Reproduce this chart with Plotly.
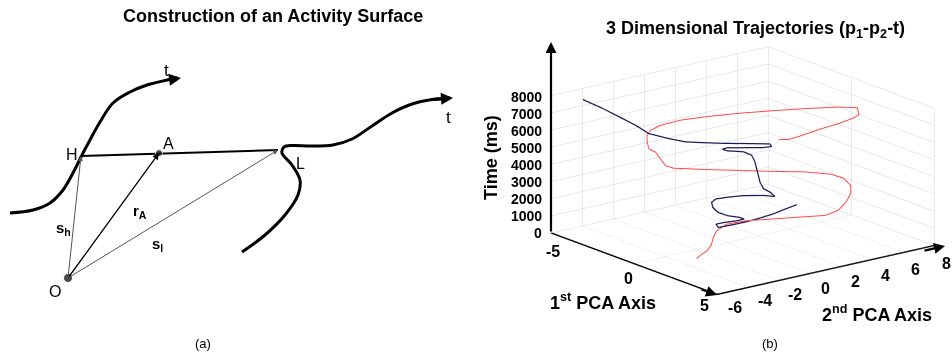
import plotly.graph_objects as go

# ---------------- Panel (a): schematic diagram (diagram coordinates) ----------------
left_curve_x = [10, 33, 50, 63, 73, 82, 90, 100, 113, 130, 147, 167, 178]
left_curve_y = [213, 210, 203, 190, 173, 155, 140, 122, 103, 92, 85, 80, 78]
right_curve_x = [242, 265, 285, 298, 300, 292, 282, 284, 293, 310, 333, 352, 372, 392, 412, 432, 450]
right_curve_y = [252, 235, 215, 195, 180, 165, 153, 147, 145.5, 146, 145, 139, 126, 113, 104, 99.5, 98]
point_O = (68, 278)
point_H = (81, 156)
point_A = (159, 153)
point_L = (278, 150)

# ---------------- Panel (b): 3-D trajectories ----------------
blue_p1 = [-1.40, -1.05, -0.65, -0.34, -0.12, 0.03, 0.16, -0.05, 0.14, 0.44, 0.59, 0.48, 0.23, -0.16,
           -0.61, -0.97, -1.04, -0.78, -0.40, 0.21, 0.74, 0.36, 0.22, -0.02, -0.21, -0.41, -0.61, -0.83,
           -1.02, -1.31, -1.41, -1.27, -0.73, -0.12, 0.14, 0.01, -0.30, -0.74, -1.26, -1.45, -1.81, -2.24,
           -2.68, -3.21, -3.74, -4.40]
blue_p2 = [5.99, 4.88, 3.64, 2.26, 1.20, 0.18, -0.76, -0.66, -0.33, 0.19, 0.46, 0.26, -0.22, -0.43,
           -0.28, 0.03, 0.37, 0.84, 1.49, 2.11, 2.28, 2.37, 2.10, 2.13, 2.23, 2.33, 2.44, 2.46,
           2.13, 1.40, 1.19, 1.35, 1.84, 2.45, 2.71, 2.74, 1.80, 0.59, -0.55, -1.18, -1.86, -2.67,
           -3.04, -3.53, -4.03, -4.60]
blue_t = [500, 600, 700, 800, 900, 1000, 1100, 1200, 1300, 1400, 1500, 1600, 1700, 1800,
          1900, 2000, 2100, 2200, 2300, 2400, 2500, 2600, 2800, 3100, 3400, 3700, 4000, 4300,
          4500, 4600, 4700, 4800, 4900, 5000, 5100, 5200, 5300, 5400, 5500, 5600, 5800, 6100,
          6500, 6900, 7300, 7700]

red_p1 = [0.92, 0.77, 0.65, 0.41, 0.03, -0.31, -0.50, -0.14, 0.54, 1.22, 1.90, 2.03, 1.70, 1.31,
          0.81, 0.32, -0.15, -0.72, -1.26, -1.83, -2.41, -3.02, -3.21, -3.57, -3.93, -4.07, -4.36,
          -4.60, -4.69, -4.63, -4.35, -3.77, -3.02, -2.18, -1.30, -0.27, 0.59, 1.57, 1.97, 2.48,
          2.88, 3.38, 3.64, 3.60]
red_p2 = [-2.96, -2.49, -1.95, -1.45, -0.93, -0.36, 0.50, 1.38, 2.35, 3.33, 4.28, 4.99, 5.85, 6.57,
          7.09, 7.18, 6.84, 5.76, 4.22, 2.73, 1.24, -0.21, -0.54, -0.48, -0.41, -0.69, -0.50,
          -0.25, 0.06, 0.63, 1.60, 2.66, 3.97, 5.18, 6.36, 7.39, 7.75, 6.82, 6.09, 4.52,
          2.84, 1.07, 0.06, -0.52]
red_t = [0, 100, 200, 350, 500, 650, 800, 950, 1100, 1250, 1400, 1600, 1800, 2000,
         2200, 2400, 2550, 2700, 2850, 3000, 3150, 3300, 3450, 3700, 3950, 4150, 4400,
         4650, 4850, 5050, 5250, 5450, 5650, 5850, 6050, 6300, 6500, 6650, 6750, 6900,
         7050, 7200, 7300, 7400]

p1_ticks = [-5, 0, 5]
p1_labels = ["-5", "0", "5"]
p2_ticks = [-6, -4, -2, 0, 2, 4, 6, 8]
p2_labels = ["-6", "-4", "-2", "0", "2", "4", "6", "8"]
t_ticks = [0, 1000, 2000, 3000, 4000, 5000, 6000, 7000, 8000]
t_labels = ["0", "1000", "2000", "3000", "4000", "5000", "6000", "7000", "8000"]

FONT = "Liberation Sans, Arial, sans-serif"

fig = go.Figure()

# ---- panel (a) traces ----
fig.add_trace(go.Scatter(x=left_curve_x, y=left_curve_y, mode="lines",
                         line=dict(color="black", width=3, shape="spline"), hoverinfo="skip"))
fig.add_trace(go.Scatter(x=right_curve_x, y=right_curve_y, mode="lines",
                         line=dict(color="black", width=3, shape="spline"), hoverinfo="skip"))
fig.add_trace(go.Scatter(x=[point_H[0], point_L[0]], y=[point_H[1], point_L[1]], mode="lines",
                         line=dict(color="black", width=2), hoverinfo="skip"))
fig.add_trace(go.Scatter(x=[point_A[0], point_O[0]], y=[point_A[1], point_O[1]], mode="markers",
                         marker=dict(color="black", size=[7, 9]), hoverinfo="skip"))

# ---- panel (b) traces ----
fig.add_trace(go.Scatter3d(x=red_p1, y=red_p2, z=red_t, mode="lines",
                           line=dict(color="#ff4a4a", width=2), scene="scene", hoverinfo="skip"))
fig.add_trace(go.Scatter3d(x=blue_p1, y=blue_p2, z=blue_t, mode="lines",
                           line=dict(color="#1c1c5c", width=2.5), scene="scene", hoverinfo="skip"))

axis_common = dict(showbackground=False, showspikes=False, zeroline=False,
                   gridcolor="#d4d4d4", gridwidth=1, linecolor="black",
                   linewidth=3, ticks="", title=dict(text=""), showticklabels=False)

fig.update_layout(
    width=952, height=356, margin=dict(l=0, r=0, t=0, b=0),
    paper_bgcolor="white", plot_bgcolor="white", showlegend=False,
    xaxis=dict(domain=[0, 0.5], range=[0, 476], visible=False, fixedrange=True),
    yaxis=dict(domain=[0, 1], range=[356, 0], visible=False, fixedrange=True),
    scene=dict(
        domain=dict(x=[0.47, 1.0], y=[0.08, 0.95]),
        xaxis=dict(range=[-5, 5], tickvals=p1_ticks, showline=True, **axis_common),
        yaxis=dict(range=[-6, 8], tickvals=p2_ticks, showline=True, **axis_common),
        zaxis=dict(range=[0, 8000], tickvals=t_ticks, showline=False, **axis_common),
        aspectmode="manual", aspectratio=dict(x=1.741, y=1.776, z=0.926),
        camera=dict(eye=dict(x=0.662, y=-0.870, z=0.302), up=dict(x=0, y=0, z=1),
                    center=dict(x=-0.165, y=-0.225, z=-0.014), projection=dict(type="orthographic")),
    ),
)

ann = []
# arrows from O
for tgt, col, w in [(point_H, "#555555", 1), (point_A, "black", 1.3), (point_L, "#555555", 1)]:
    ann.append(dict(x=tgt[0], y=tgt[1], ax=point_O[0], ay=point_O[1], xref="x", yref="y",
                    axref="x", ayref="y", showarrow=True, arrowhead=2, arrowsize=1,
                    arrowwidth=w, arrowcolor=col, text=""))
# curve arrow heads
ann.append(dict(x=left_curve_x[-1] + 3, y=left_curve_y[-1], ax=left_curve_x[-2], ay=left_curve_y[-2],
                xref="x", yref="y", axref="x", ayref="y", showarrow=True, arrowhead=2,
                arrowsize=0.8, arrowwidth=3, arrowcolor="black", text=""))
ann.append(dict(x=right_curve_x[-1] + 3, y=right_curve_y[-1], ax=right_curve_x[-2], ay=right_curve_y[-2],
                xref="x", yref="y", axref="x", ayref="y", showarrow=True, arrowhead=2,
                arrowsize=0.8, arrowwidth=3, arrowcolor="black", text=""))

def lab(text, x, y, size=15, bold=False, xref="x", yref="y", **kw):
    t = f"<b>{text}</b>" if bold else text
    d = dict(text=t, x=x, y=y, xref=xref, yref=yref, showarrow=False,
             font=dict(family=FONT, size=size, color="black"), xanchor="center", yanchor="middle")
    d.update(kw)
    ann.append(d)

lab("Construction of an Activity Surface", 273, 16, size=18, bold=True)
lab("t", 166, 70, size=17)
lab("t", 448, 117, size=17)
lab("H", 72, 154, size=16)
lab("A", 168, 143, size=16)
lab("L", 300, 163, size=16)
lab("O", 55, 291, size=16)
lab("s<sub>h</sub>", 63, 228, size=15, bold=True)
lab("r<sub>A</sub>", 140, 211, size=15, bold=True)
lab("s<sub>l</sub>", 157, 244, size=15, bold=True)
lab("(a)", 203, 343, size=13)

# panel (b) labels in paper coords
def px(x):
    return x / 952

def py(y):
    return 1 - y / 356

lab("3 Dimensional Trajectories (p<sub>1</sub>-p<sub>2</sub>-t)", px(755), py(29), size=18, bold=True,
    xref="paper", yref="paper")
lab("Time (ms)", px(491), py(158), size=18, bold=True, xref="paper", yref="paper", textangle=-90)
lab("1<sup>st</sup> PCA Axis", px(603), py(301), size=18, bold=True, xref="paper", yref="paper")
lab("2<sup>nd</sup> PCA Axis", px(877), py(313), size=18, bold=True, xref="paper", yref="paper")
lab("(b)", px(770), py(343), size=13, xref="paper", yref="paper")

# tick labels placed beside the projected axes (MATLAB-style placement)
for v, s in zip(p1_ticks, p1_labels):
    f = (v - p1_ticks[0]) / (p1_ticks[-1] - p1_ticks[0])
    lab(s, px(553 + 151 * f), py(252 + 53 * f), size=16, bold=True, xref="paper", yref="paper")
for v, s in zip(p2_ticks, p2_labels):
    f = (v - p2_ticks[0]) / (p2_ticks[-1] - p2_ticks[0])
    lab(s, px(735 + 211 * f), py(307 - 44 * f), size=16, bold=True, xref="paper", yref="paper")
for v, s in zip(t_ticks, t_labels):
    lab(s, px(544), py(233 - 0.017 * v), size=14, bold=True, xref="paper", yref="paper",
        xanchor="right")

# axis arrows (decoration, paper coordinates)
for hx, hy, tx, ty in [(551, 42, 0, 191), (717, 295, -17, -6), (945, 246, -22, 5)]:
    ann.append(dict(x=px(hx), y=py(hy), xref="paper", yref="paper", ax=tx, ay=ty,
                    showarrow=True, arrowhead=2, arrowsize=1, arrowwidth=2.2,
                    arrowcolor="black", text=""))

fig.update_layout(annotations=ann)
fig.write_html("out.html", config={"displayModeBar": False},
               post_script="document.body.style.margin='0';")
